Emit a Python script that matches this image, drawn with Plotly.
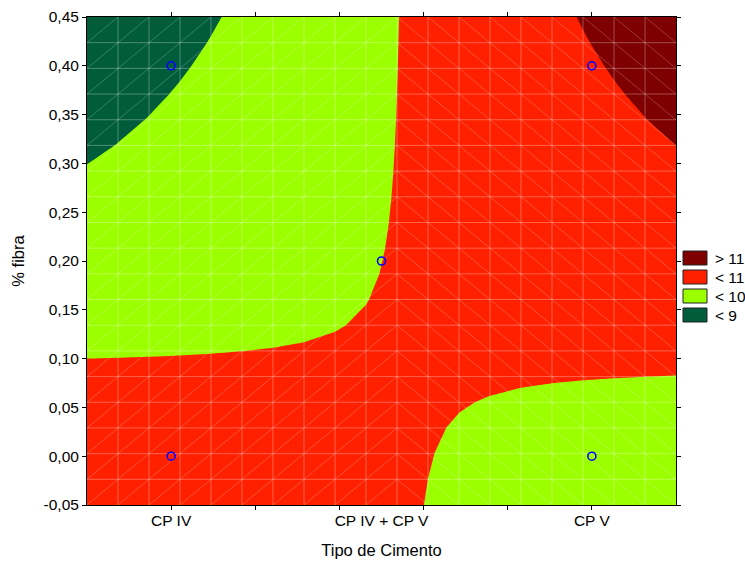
import numpy as np
import plotly.graph_objects as go

# Cement type (coded -1 / 0 / +1) and the tick labels used for it
cement_codes = [-1, 0, 1]
cement_labels = ["CP IV", "CP IV + CP V", "CP V"]

# Experimental design: coded cement type, fibre fraction and measured response
design_cement = [-1, -1, 0, 1, 1]
design_fibra = [0.00, 0.40, 0.20, 0.00, 0.40]
response = [10.38, 8.90, 10.00, 9.77, 10.94]

# Contour classes
levels = [9, 10, 11]
band_colors = ["#005c3b", "#9cff00", "#ff2000", "#7f0000"]  # <9, <10, <11, >11
legend_labels = ["> 11", "< 11", "< 10", "< 9"]
legend_colors = ["#7f0000", "#ff2000", "#9cff00", "#005c3b"]

# Axis ticks
x_range = [-1.4, 1.4]
x_minor_ticks = [-1.0, -0.6, -0.2, 0.2, 0.6, 1.0]
y_range = [-0.05, 0.45]
y_ticks = [-0.05, 0.00, 0.05, 0.10, 0.15, 0.20, 0.25, 0.30, 0.35, 0.40, 0.45]
y_tick_labels = ["-0,05", "0,00", "0,05", "0,10", "0,15", "0,20",
                 "0,25", "0,30", "0,35", "0,40", "0,45"]

# Fit a bilinear response surface: z = b0 + b1*x + b2*y + b3*x*y
dx = np.array(design_cement, float)
dy = np.array(design_fibra, float)
A = np.column_stack([np.ones_like(dx), dx, dy, dx * dy])
coef, *_ = np.linalg.lstsq(A, np.array(response, float), rcond=None)

n_grid = 20
gx = np.linspace(x_range[0], x_range[1], n_grid)
gy = np.linspace(y_range[0], y_range[1], n_grid)
GX, GY = np.meshgrid(gx, gy)
Z = coef[0] + coef[1] * GX + coef[2] * GY + coef[3] * GX * GY

step = 1.0 / len(band_colors)
colorscale = []
for i, c in enumerate(band_colors):
    colorscale.append([i * step, c])
    colorscale.append([(i + 1) * step, c])

fig = go.Figure()
fig.add_trace(go.Contour(
    x=gx, y=gy, z=Z,
    zmin=levels[0] - 1, zmax=levels[-1] + 1,
    contours=dict(start=levels[0], end=levels[-1], size=1,
                  coloring="fill", showlines=False),
    line=dict(width=0, smoothing=0),
    colorscale=colorscale, showscale=False, hoverinfo="skip",
))

# Triangulated surface mesh drawn over the filled contours
mx, my = [], []
for xv in gx[1:-1]:
    mx += [xv, xv, None]
    my += [gy[0], gy[-1], None]
for yv in gy[1:-1]:
    mx += [gx[0], gx[-1], None]
    my += [yv, yv, None]
fig.add_trace(go.Scatter(
    x=mx, y=my, mode="lines",
    line=dict(color="rgba(255,255,255,0.30)", width=1),
    hoverinfo="skip", showlegend=False,
))

dxs, dys = [], []
half = n_grid // 2
for i in range(n_grid - 1):
    for j in range(n_grid - 1):
        if i < half:
            dxs += [gx[i], gx[i + 1], None]
            dys += [gy[j], gy[j + 1], None]
        else:
            dxs += [gx[i], gx[i + 1], None]
            dys += [gy[j + 1], gy[j], None]
fig.add_trace(go.Scatter(
    x=dxs, y=dys, mode="lines",
    line=dict(color="rgba(255,255,255,0.22)", width=1),
    hoverinfo="skip", showlegend=False,
))

# Design points
fig.add_trace(go.Scatter(
    x=design_cement, y=design_fibra, mode="markers", xaxis="x2",
    marker=dict(symbol="circle-open", size=8, color="#0000ff",
                line=dict(width=1.6, color="#0000ff")),
    showlegend=False, hoverinfo="skip",
))

font_family = "Liberation Sans, Arial, sans-serif"
fs = 15.5
fs_title = 16.5

# Legend boxes for the contour classes
W, H = 745, 563
ml, mr, mt, mb = 87, 69, 17, 58
pw, ph = W - ml - mr, H - mt - mb


def px_to_paper(px, py):
    return (px - ml) / pw, (H - mb - py) / ph


shapes = []
annotations = []
for k, (lab, col) in enumerate(zip(legend_labels, legend_colors)):
    top = 251 + 19 * k
    x0, y1 = px_to_paper(683, top)
    x1, y0 = px_to_paper(707, top + 14)
    shapes.append(dict(type="rect", xref="paper", yref="paper",
                       x0=x0, x1=x1, y0=y0, y1=y1,
                       fillcolor=col, line=dict(color="#222222", width=1)))
    tx, ty = px_to_paper(713, top + 7)
    annotations.append(dict(xref="paper", yref="paper", x=tx, y=ty,
                            text=lab, showarrow=False, xanchor="left",
                            yanchor="middle",
                            font=dict(family=font_family, size=fs, color="black")))

axis_common = dict(showgrid=False, zeroline=False, automargin=False)
fig.update_layout(
    width=W, height=H,
    margin=dict(l=ml, r=mr, t=mt, b=mb, autoexpand=False),
    paper_bgcolor="white", plot_bgcolor="white",
    font=dict(family=font_family, size=fs, color="black"),
    showlegend=False,
    xaxis=dict(range=x_range, tickvals=x_minor_ticks, showticklabels=False,
               ticks="outside", ticklen=4, tickcolor="black",
               showline=True, linecolor="black", linewidth=1, mirror="ticks",
               **axis_common),
    xaxis2=dict(range=x_range, overlaying="x", anchor="y", side="bottom",
                tickvals=cement_codes, ticktext=cement_labels, ticks="",
                showline=False, ticklabelstandoff=4,
                title=dict(text="Tipo de Cimento", standoff=16,
                           font=dict(size=fs_title)),
                **axis_common),
    yaxis=dict(range=y_range, tickvals=y_ticks, ticktext=y_tick_labels,
               ticks="outside", ticklen=4, tickcolor="black",
               showline=True, linecolor="black", linewidth=1, mirror="ticks",
               title=dict(text="% fibra", standoff=14, font=dict(size=fs_title)),
               **axis_common),
    shapes=shapes,
    annotations=annotations,
)

fig.write_html("out.html")
